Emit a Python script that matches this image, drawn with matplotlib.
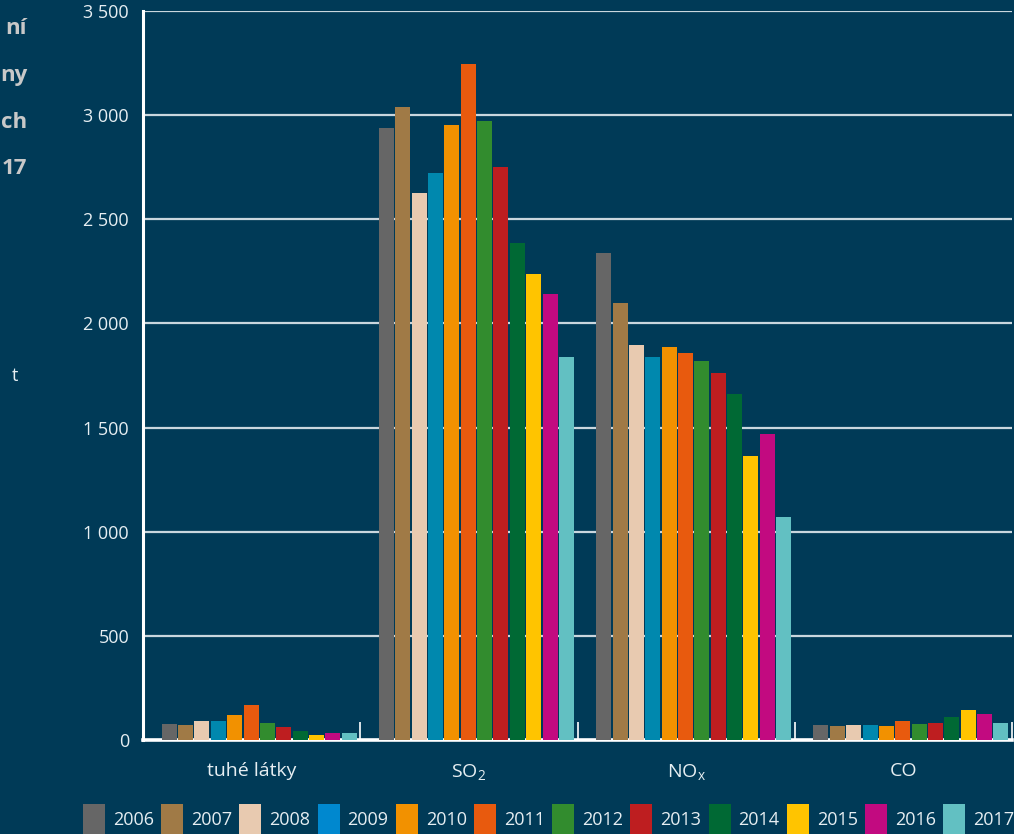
import matplotlib
matplotlib.use("Agg")
import matplotlib.pyplot as plt
from matplotlib.patches import Rectangle

plt.rcParams['font.family'] = ['Open Sans', 'DejaVu Sans']
plt.rcParams['mathtext.fontset'] = 'custom'
plt.rcParams['mathtext.rm'] = 'Open Sans'

# Emissions (t) by pollutant and year
categories = ['tuhé látky', r'SO$_{\mathregular{2}}$', r'NO$_{\mathregular{x}}$', 'CO']
years = ['2006', '2007', '2008', '2009', '2010', '2011',
         '2012', '2013', '2014', '2015', '2016', '2017']
tuhe_latky = [77, 72, 91, 91, 120, 168, 82, 62, 43, 24, 34, 34]
so2 = [2938, 3039, 2626, 2722, 2952, 3245, 2971, 2751, 2386, 2237, 2141, 1839]
nox = [2338, 2098, 1896, 1839, 1887, 1858, 1819, 1762, 1661, 1363, 1469, 1071]
co = [72, 67, 72, 72, 67, 91, 77, 82, 110, 144, 125, 82]
values = [tuhe_latky, so2, nox, co]
yticks = [0, 500, 1000, 1500, 2000, 2500, 3000, 3500]
ytick_labels = ['0', '500', '1 000', '1 500', '2 000', '2 500', '3 000', '3 500']

colors = ['#666666', '#A07A46', '#E8CAB0', '#0088AE', '#F29100', '#E85A0E',
          '#328C2E', '#BE1E20', '#006934', '#FFC400', '#C20A80', '#62C0C2']
legend_colors = list(colors)
legend_colors[3] = '#0088CF'

bg = '#003A57'
fg = '#FFFFFF'
txt = '#E6EEF2'
fig = plt.figure(figsize=(10.14, 8.34), dpi=100, facecolor=bg)
ax = fig.add_axes([143 / 1014, 1 - 740 / 834, (1012 - 143) / 1014, (740 - 11) / 834])
ax.set_facecolor(bg)

step = 0.0753
width = 0.069
start = 0.083
for i, vals in enumerate(values):
    for j, v in enumerate(vals):
        ax.bar(i + start + (j + 0.5) * step, v, width=width, color=colors[j],
               zorder=3, linewidth=0)

ax.set_xlim(0, 4)
ax.set_ylim(0, 3500)
ax.set_yticks(yticks)
ax.set_yticklabels(ytick_labels, color=txt, fontsize=13)
ax.tick_params(axis='y', length=0, pad=10)
ax.yaxis.grid(True, color='#C9D6DE', linewidth=1.6, zorder=1)
ax.set_axisbelow(True)

ax.set_xticks([0.5, 1.5, 2.5, 3.5])
ax.set_xticklabels(categories, color=txt, fontsize=14)
ax.tick_params(axis='x', length=0, pad=16)
ax.set_xticks([1, 2, 3, 4], minor=True)
ax.tick_params(axis='x', which='minor', direction='in', length=13,
               width=1.2, color=fg)

for side in ('top', 'right'):
    ax.spines[side].set_visible(False)
ax.spines['left'].set_color(fg)
ax.spines['left'].set_linewidth(2.2)
ax.spines['bottom'].set_color(fg)
ax.spines['bottom'].set_linewidth(2.6)

# unit label
fig.text(15 / 1014, 1 - 376 / 834, 't', color=txt, fontsize=13,
         ha='center', va='center')

# heading fragments at the left edge
for k, frag in enumerate(['ní', 'ny', 'ch', '17']):
    fig.text(27 / 1014, 1 - (28 + k * 47) / 834, frag, color='#C8C8C8',
             fontsize=16, fontweight='bold', ha='right', va='center')

# legend row along the bottom
for j, (yr, c) in enumerate(zip(years, legend_colors)):
    x0 = 83 + j * 78.2
    fig.add_artist(Rectangle((x0 / 1014, 0), 22 / 1014, 30 / 834,
                             transform=fig.transFigure, color=c, linewidth=0))
    fig.text((x0 + 30) / 1014, 1 - 820 / 834, yr, color=txt,
             fontsize=13, ha='left', va='center')

fig.savefig('out.png', dpi=100, facecolor=bg)
